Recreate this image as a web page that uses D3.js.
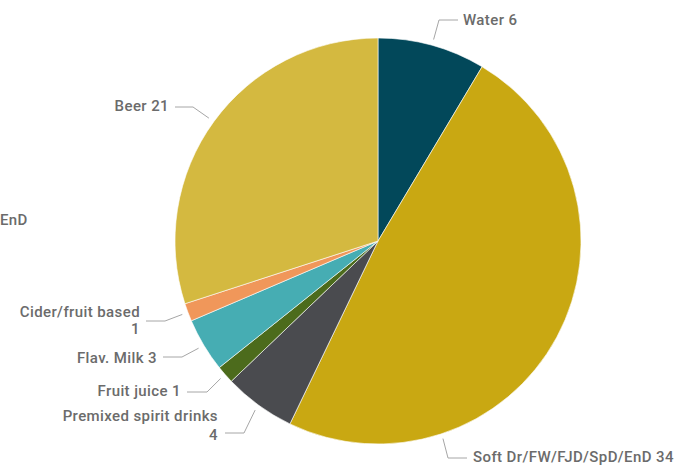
<!DOCTYPE html>
<html><head><meta charset="utf-8">
<script src="https://cdn.jsdelivr.net/npm/d3@7"></script>
<style>body{margin:0;background:#fff;}svg{display:block;}</style>
</head><body>
<svg id="chart" width="681" height="465"></svg>
<script>
const categories = ["Water","Soft Dr/FW/FJD/SpD/EnD","Premixed spirit drinks","Fruit juice","Flav. Milk","Cider/fruit based","Beer"];
const values = [6,34,4,1,3,1,21];
const colors = ["#02485A","#C9A812","#4A4B4F","#4C6B1C","#46ADB3","#F0975A","#D4B940"];
const labelLines = [["Water 6"],["Soft Dr/FW/FJD/SpD/EnD 34"],["Premixed spirit drinks","4"],["Fruit juice 1"],["Flav. Milk 3"],["Cider/fruit based","1"],["Beer 21"]];

const svg = d3.select("#chart");
const cx = 378, cy = 241, r = 203;
const g = svg.append("g").attr("transform",`translate(${cx},${cy})`);
const pie = d3.pie().sort(null).value(d=>d)(values);
const arc = d3.arc().innerRadius(0).outerRadius(r);
const outer = d3.arc().innerRadius(r+6).outerRadius(r+6);

g.selectAll("path.slice").data(pie).enter().append("path")
  .attr("d",arc).attr("fill",(d,i)=>colors[i])
  .attr("stroke","#fff").attr("stroke-width",0.6);

// label layout per slice (relative to centre): elbow, horizontal end, text position
const layout = [
  {ex:61, ey:-221, hx:80, tx:85, ty:-216, dy:18, anchor:"start"},
  {ang:2.824, ex:70, ey:217, hx:89, tx:95, ty:221, dy:18, anchor:"start"},
  {ex:-134, ey:192, hx:-153, tx:-160, ty:180, dy:19, anchor:"end"},
  {ex:-171, ey:151, hx:-191, tx:-197, ty:155, dy:18, anchor:"end"},
  {ex:-196, ey:116, hx:-215, tx:-221, ty:122, dy:18, anchor:"end"},
  {ex:-213, ey:80, hx:-232, tx:-238, ty:76, dy:17, anchor:"end"},
  {ex:-185, ey:-134, hx:-203, tx:-209, ty:-130, dy:18, anchor:"end"}
];

function anchorPoint(d,i){
  const L = layout[i];
  if (L.ang !== undefined) return d3.pointRadial(L.ang, r+5);
  return outer.centroid(d);
}

const lab = g.selectAll("g.lab").data(pie).enter().append("g");
lab.append("polyline")
  .attr("points",(d,i)=>{const p=anchorPoint(d,i);const L=layout[i];return [p,[L.ex,L.ey],[L.hx,L.ey]].map(q=>q.join(",")).join(" ");})
  .attr("fill","none").attr("stroke","#a6a6a6").attr("stroke-width",1);
lab.append("text")
  .attr("x",(d,i)=>layout[i].tx).attr("y",(d,i)=>layout[i].ty)
  .attr("text-anchor",(d,i)=>layout[i].anchor)
  .attr("font-family","Roboto, sans-serif").attr("font-size",15).attr("font-weight",500)
  .attr("letter-spacing","0.4px").attr("fill","#6b6b6b")
  .each(function(d,i){
    const t=d3.select(this);
    labelLines[i].forEach((s,k)=>t.append("tspan").attr("x",layout[i].tx).attr("dy",k?layout[i].dy:0).text(s));
  });

svg.append("text").attr("x",0).attr("y",225).attr("font-family","Roboto, sans-serif").attr("font-size",15).attr("font-weight",500)
  .attr("letter-spacing","0.4px").attr("fill","#6b6b6b").text("EnD");
</script>
</body></html>
